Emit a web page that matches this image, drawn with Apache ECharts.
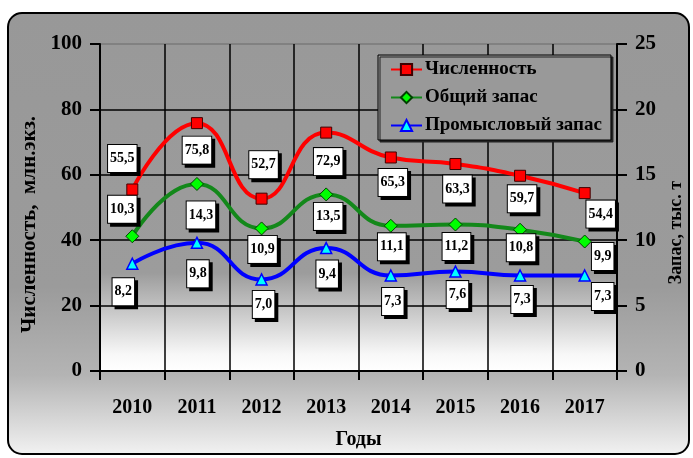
<!DOCTYPE html>
<html><head><meta charset="utf-8">
<script src="https://cdn.jsdelivr.net/npm/echarts@6/dist/echarts.min.js"></script>
<style>html,body{margin:0;padding:0;background:#fff}#c{width:693px;height:458px}</style>
</head><body><div id="c"></div>
<script>
var years = ['2010','2011','2012','2013','2014','2015','2016','2017'];
var chislennost = [55.5, 75.8, 52.7, 72.9, 65.3, 63.3, 59.7, 54.4];
var obshchiy = [10.3, 14.3, 10.9, 13.5, 11.1, 11.2, 10.8, 9.9];
var promyslovy = [8.2, 9.8, 7.0, 9.4, 7.3, 7.6, 7.3, 7.3];
var seriesNames = ['Численность', 'Общий запас', 'Промысловый запас'];
var leftTicks = [0, 20, 40, 60, 80, 100];
var rightTicks = [0, 5, 10, 15, 20, 25];

// label box offsets (style only)
var offRed = [[-10,-31],[0,27],[2,-34],[2,29],[2,25],[2,25],[2,23],[16,21]];
var offGreen = [[-10,-27],[4,31],[1,21],[2,22],[1,21],[1,22],[1,18],[18,15]];
var offBlue = [[-9,28],[1,31],[2,25],[1,26],[2,26],[2,23],[2,24],[18,21]];

var FONT = '"Liberation Serif", "Times New Roman", serif';
function fmt(v){ return v.toFixed(1).replace('.', ','); }
var labelBase = {
  show: true, position: 'inside', fontFamily: FONT, fontWeight: 'bold', fontSize: 14,
  color: '#000', backgroundColor: '#fff', borderColor: '#000', borderWidth: 1,
  padding: [7, 2, 6, 2], shadowColor: '#000', shadowOffsetX: 3, shadowOffsetY: 3, shadowBlur: 0,
  formatter: function(p){ return fmt(p.value); }
};
function build(vals, offs){
  return vals.map(function(v, i){
    return { value: v, label: Object.assign({}, labelBase, { offset: offs[i] }) };
  });
}

var chart = echarts.init(document.getElementById('c'), null, {renderer: 'canvas'});
chart.setOption({
  animation: false,
  backgroundColor: '#fff',
  graphic: [{
    type: 'rect', z: -10, silent: true,
    shape: { x: 8, y: 13, width: 681, height: 441, r: 14 },
    style: {
      fill: new echarts.graphic.LinearGradient(0, 0, 0, 1, [
        {offset: 0, color: '#989898'}, {offset: 0.62, color: '#9b9b9b'},
        {offset: 0.82, color: '#b4b4b4'}, {offset: 1, color: '#f2f2f2'}]),
      stroke: '#000', lineWidth: 2
    }
  }],
  grid: {
    left: 100, right: 76, top: 44, bottom: 87, show: true, borderWidth: 0,
    backgroundColor: new echarts.graphic.LinearGradient(0, 0, 0, 1, [
      {offset: 0, color: '#999999'}, {offset: 0.7, color: '#9c9c9c'},
      {offset: 0.95, color: '#f8f8f8'}, {offset: 1, color: '#ffffff'}])
  },
  legend: {
    orient: 'vertical', left: 378, top: 55,
    data: seriesNames,
    backgroundColor: '#999', borderColor: '#000', borderWidth: 1,
    shadowColor: '#222', shadowOffsetX: 2, shadowOffsetY: 2, shadowBlur: 0,
    padding: [5, 9, 5, 12], itemGap: 9, itemWidth: 31, itemHeight: 14,
    textStyle: { fontFamily: FONT, fontWeight: 'bold', fontSize: 19, color: '#000', padding: [0,0,0,-2] }
  },
  xAxis: {
    type: 'category', data: years, boundaryGap: true,
    axisLine: { lineStyle: { color: '#000', width: 2 } },
    axisTick: { show: true, length: 9, lineStyle: { color: '#000', width: 2 } },
    splitLine: { show: true, lineStyle: { color: '#000', width: 1.5 } },
    axisLabel: { fontFamily: FONT, fontWeight: 'bold', fontSize: 20, color: '#000', margin: 27 },
    name: 'Годы', nameLocation: 'middle', nameGap: 59,
    nameTextStyle: { fontFamily: FONT, fontWeight: 'bold', fontSize: 20, color: '#000' }
  },
  yAxis: [{
    type: 'value', min: leftTicks[0], max: leftTicks[leftTicks.length-1], interval: 20,
    axisLine: { show: true, lineStyle: { color: '#000', width: 2 } },
    axisTick: { show: true, length: 10, lineStyle: { color: '#000', width: 2 } },
    splitLine: { show: true, lineStyle: { color: ['#000','#000','#000','#000','#000','#7a7a7a'], width: 1.5 } },
    axisLabel: { fontFamily: FONT, fontWeight: 'bold', fontSize: 21, color: '#000', margin: 18 },
    name: 'Численность,  млн.экз.', nameLocation: 'middle', nameGap: 55, nameRotate: 90,
    nameTextStyle: { fontFamily: FONT, fontWeight: 'bold', fontSize: 21, color: '#000', padding: [0, 34, 0, 0] }
  }, {
    type: 'value', position: 'right', min: rightTicks[0], max: rightTicks[rightTicks.length-1], interval: 5,
    axisLine: { show: true, lineStyle: { color: '#000', width: 2 } },
    axisTick: { show: true, length: 10, lineStyle: { color: '#000', width: 2 } },
    splitLine: { show: false },
    axisLabel: { fontFamily: FONT, fontWeight: 'bold', fontSize: 21, color: '#000', margin: 18 },
    name: 'Запас, тыс. т', nameLocation: 'middle', nameGap: 49, nameRotate: 90,
    nameTextStyle: { fontFamily: FONT, fontWeight: 'bold', fontSize: 18, color: '#000', padding: [0, 50, 0, 0] }
  }],
  series: [{
    name: seriesNames[0], type: 'line', yAxisIndex: 0, smooth: 0.5,
    data: build(chislennost, offRed),
    lineStyle: { color: '#ff0000', width: 4 },
    itemStyle: { color: '#ff0000', borderColor: '#400000', borderWidth: 1 },
    symbol: 'rect', symbolSize: 11, z: 4
  }, {
    name: seriesNames[1], type: 'line', yAxisIndex: 1, smooth: 0.5,
    data: build(obshchiy, offGreen),
    lineStyle: { color: '#13881a', width: 4 },
    itemStyle: { color: '#00ff00', borderColor: '#004000', borderWidth: 1 },
    symbol: 'diamond', symbolSize: 13, z: 3
  }, {
    name: seriesNames[2], type: 'line', yAxisIndex: 1, smooth: 0.5,
    data: build(promyslovy, offBlue),
    lineStyle: { color: '#0000ff', width: 4 },
    itemStyle: { color: '#00ffff', borderColor: '#0000ff', borderWidth: 1.5 },
    symbol: 'triangle', symbolSize: 11, z: 2
  }]
});
</script></body></html>
